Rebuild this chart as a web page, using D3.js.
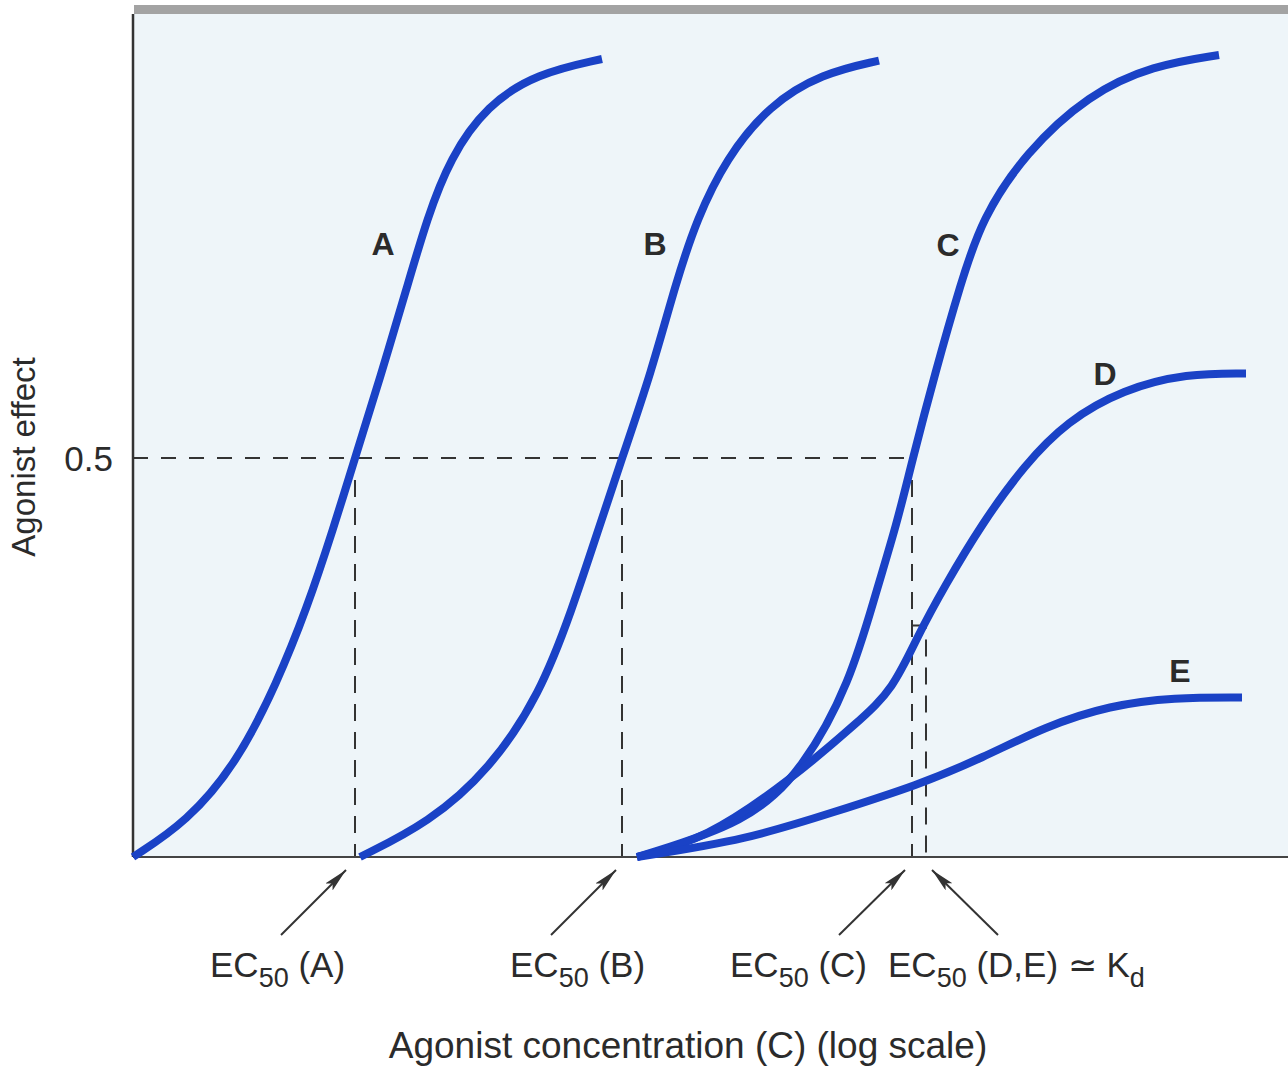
<!DOCTYPE html>
<html>
<head>
<meta charset="utf-8">
<script src="https://cdn.jsdelivr.net/npm/d3@7"></script>
<style>
  body { margin: 0; background: #fff; }
  svg { display: block; }
  text { font-family: "Liberation Sans", Arial, Helvetica, sans-serif; fill: #2b2b2b; }
</style>
</head>
<body>
<svg width="1288" height="1071"></svg>
<script>
// log concentration (arbitrary units) and agonist effect (fraction of max)
let logA = [0, 0.54, 1.04, 1.44, 1.74, 2.00, 2.22, 2.47, 2.74, 2.94, 3.17, 3.54, 4.04, 4.69];
let effA = [0, 0.044, 0.118, 0.218, 0.312, 0.41, 0.5, 0.60, 0.714, 0.80, 0.876, 0.942, 0.982, 1.0];

let logB = [2.27, 2.96, 3.57, 4.07, 4.39, 4.64, 4.89, 5.18, 5.43, 5.64, 5.93, 6.36, 6.89, 7.46];
let effB = [0, 0.043, 0.11, 0.204, 0.31, 0.405, 0.5, 0.606, 0.72, 0.80, 0.875, 0.942, 0.982, 0.998];

let logC = [5.04, 6.15, 6.70, 7.17, 7.43, 7.64, 7.79, 8.02, 8.28, 8.49, 8.92, 9.56, 10.20, 10.86];
let effC = [0, 0.043, 0.11, 0.218, 0.332, 0.418, 0.496, 0.606, 0.72, 0.80, 0.882, 0.956, 0.992, 1.005];

let logD = [5.04, 5.72, 6.57, 7.26, 7.60, 7.85, 8.11, 8.49, 8.92, 9.34, 9.90, 10.54, 11.13];
let effD = [0, 0.022, 0.096, 0.17, 0.21, 0.278, 0.338, 0.418, 0.492, 0.546, 0.586, 0.606, 0.606];

let logE = [5.04, 6.15, 7.00, 7.85, 8.49, 9.13, 9.77, 10.41, 11.09];
let effE = [0, 0.022, 0.056, 0.09, 0.124, 0.164, 0.19, 0.2, 0.2];

let curveNames = ["A", "B", "C", "D", "E"];
let curveLabelPos = [[2.50, 0.754], [5.22, 0.754], [8.15, 0.753], [9.72, 0.591], [10.47, 0.219]];

let ec50A = 2.22, ec50B = 4.89, ec50C = 7.79, ec50DE = 7.93;
let halfEffect = 0.5, dAtKd = 0.29;
let yTicks = [0.5];

let yTitle = "Agonist effect";
let xTitle = "Agonist concentration (C) (log scale)";

let svg = d3.select("svg"),
    margin = {top: 14, right: 0, bottom: 214, left: 133},
    width = +svg.attr("width") - margin.left - margin.right,
    height = +svg.attr("height") - margin.top - margin.bottom;

let x = d3.scaleLinear().domain([0, 11.55]).range([margin.left, margin.left + width]);
let y = d3.scaleLinear().domain([0, 1]).range([857, 59]);

let series = [[logA, effA], [logB, effB], [logC, effC], [logD, effD], [logE, effE]]
    .map(s => s[0].map((v, i) => ({x: v, y: s[1][i]})));

// plot background + scanned top edge
svg.append("rect")
    .attr("x", margin.left).attr("y", margin.top)
    .attr("width", width).attr("height", y(0) - margin.top)
    .attr("fill", "#eef5f9");
svg.append("rect")
    .attr("x", margin.left + 1).attr("y", 5)
    .attr("width", width).attr("height", 9)
    .attr("fill", "#a3a3a3");

// dashed guide lines
let guides = svg.append("g").attr("fill", "none").attr("stroke", "#333").attr("stroke-width", 2);
guides.append("line")
    .attr("x1", x(0)).attr("x2", x(ec50C))
    .attr("y1", y(halfEffect)).attr("y2", y(halfEffect))
    .attr("stroke-dasharray", "15,13");
[ec50A, ec50B, ec50C].forEach(v => {
    guides.append("line")
        .attr("x1", x(v)).attr("x2", x(v))
        .attr("y1", y(halfEffect) + 22).attr("y2", y(0))
        .attr("stroke-dasharray", "17,11");
});
guides.append("path")
    .attr("d", "M" + x(ec50C) + "," + y(dAtKd) + "H" + x(ec50DE) + "V" + y(0))
    .attr("stroke-dasharray", "17,11");

// axes
svg.append("line")
    .attr("x1", margin.left).attr("x2", margin.left)
    .attr("y1", margin.top).attr("y2", y(0))
    .attr("stroke", "#333").attr("stroke-width", 2.5);
svg.append("line")
    .attr("x1", margin.left).attr("x2", margin.left + width)
    .attr("y1", y(0)).attr("y2", y(0))
    .attr("stroke", "#444").attr("stroke-width", 2);

svg.selectAll(".ytick")
    .data(yTicks)
    .enter().append("text")
    .attr("class", "ytick")
    .attr("x", 113).attr("y", d => y(d) + 13)
    .attr("text-anchor", "end")
    .attr("font-size", 35)
    .text(d => d);

// curves
let line = d3.line()
    .curve(d3.curveBasis)
    .x(d => x(d.x))
    .y(d => y(d.y));

svg.append("g")
    .selectAll("path")
    .data(series)
    .enter().append("path")
    .attr("d", line)
    .attr("fill", "none")
    .attr("stroke", "#1a42c6")
    .attr("stroke-width", 8);

svg.append("g")
    .selectAll("text")
    .data(curveNames)
    .enter().append("text")
    .attr("x", (d, i) => x(curveLabelPos[i][0]))
    .attr("y", (d, i) => y(curveLabelPos[i][1]))
    .attr("text-anchor", "middle")
    .attr("font-size", 32)
    .attr("font-weight", "bold")
    .text(d => d);

// arrows + EC50 labels
svg.append("defs").append("marker")
    .attr("id", "head")
    .attr("viewBox", "0 0 24 10")
    .attr("refX", 24).attr("refY", 5)
    .attr("markerWidth", 24).attr("markerHeight", 10)
    .attr("markerUnits", "userSpaceOnUse")
    .attr("orient", "auto")
    .append("path")
    .attr("d", "M0,0 L24,5 L0,10 L5,5 Z")
    .attr("fill", "#333");

let arrows = [
    {tip: x(ec50A) - 9, dx: -65},
    {tip: x(ec50B) - 6, dx: -65},
    {tip: x(ec50C) - 7, dx: -66},
    {tip: x(ec50DE) + 6, dx: 66}
];
svg.append("g")
    .selectAll("line")
    .data(arrows)
    .enter().append("line")
    .attr("x1", d => d.tip + d.dx).attr("y1", 935)
    .attr("x2", d => d.tip).attr("y2", 870)
    .attr("stroke", "#333").attr("stroke-width", 2)
    .attr("marker-end", "url(#head)");

let ecLabels = [
    {x: 210, who: "(A)", tail: ""},
    {x: 510, who: "(B)", tail: ""},
    {x: 730, who: "(C)", tail: ""},
    {x: 888, who: "(D,E)", tail: " \u2243 K"}
];
let ecText = svg.append("g")
    .selectAll("text")
    .data(ecLabels)
    .enter().append("text")
    .attr("x", d => d.x).attr("y", 977)
    .attr("font-size", 35);
ecText.append("tspan").text("EC");
ecText.append("tspan").attr("font-size", 27).attr("dy", 10).text("50");
ecText.append("tspan").attr("dy", -10).text(d => "\u00a0" + d.who + d.tail);
ecText.filter(d => d.tail).append("tspan").attr("font-size", 27).attr("dy", 10).text("d");

// axis titles
svg.append("text")
    .attr("x", 688).attr("y", 1058)
    .attr("text-anchor", "middle")
    .attr("font-size", 37)
    .text(xTitle);
svg.append("text")
    .attr("transform", "translate(35,457) rotate(-90)")
    .attr("text-anchor", "middle")
    .attr("font-size", 33)
    .text(yTitle);
</script>
</body>
</html>
